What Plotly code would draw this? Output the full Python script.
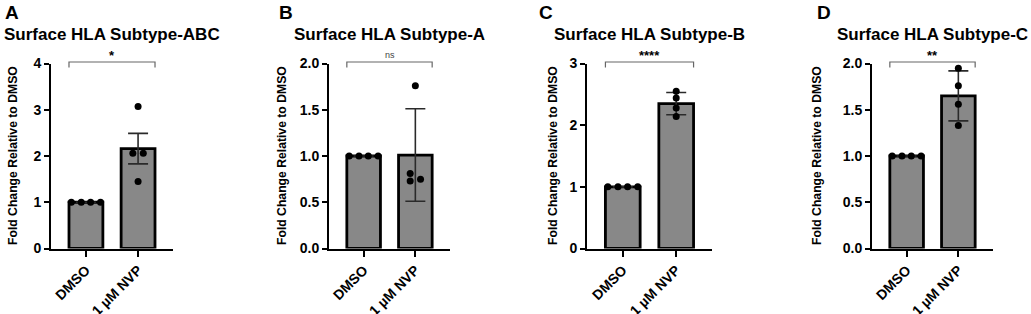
import plotly.graph_objects as go

categories = ["DMSO", "1 µM NVP"]
panel_letters = ["A", "B", "C", "D"]
panel_titles = ["Surface HLA Subtype-ABC", "Surface HLA Subtype-A",
                "Surface HLA Subtype-B", "Surface HLA Subtype-C"]
significance = ["*", "ns", "****", "**"]
y_title = "Fold Change Relative to DMSO"

# bar means (DMSO, NVP) and error bar half-widths
means_A = [1.0, 2.16]
means_B = [1.0, 1.01]
means_C = [1.0, 2.35]
means_D = [1.0, 1.65]
errors_A = [0.0, 0.33]
errors_B = [0.0, 0.50]
errors_C = [0.0, 0.18]
errors_D = [0.0, 0.27]

# individual replicate points
dmso_pts_A = [1.0, 1.0, 1.0, 1.0]
dmso_pts_B = [1.0, 1.0, 1.0, 1.0]
dmso_pts_C = [1.0, 1.0, 1.0, 1.0]
dmso_pts_D = [1.0, 1.0, 1.0, 1.0]
nvp_pts_A = [3.07, 2.06, 2.06, 1.45]
nvp_pts_B = [1.76, 0.81, 0.73, 0.75]
nvp_pts_C = [2.55, 2.44, 2.28, 2.14]
nvp_pts_D = [1.95, 1.76, 1.56, 1.33]

# y-axis ticks
yticks_A = [0, 1, 2, 3, 4]
yticks_B = [0.0, 0.5, 1.0, 1.5, 2.0]
yticks_C = [0, 1, 2, 3]
yticks_D = [0.0, 0.5, 1.0, 1.5, 2.0]

panels = [
    (means_A, errors_A, dmso_pts_A, nvp_pts_A, yticks_A, "d"),
    (means_B, errors_B, dmso_pts_B, nvp_pts_B, yticks_B, ".1f"),
    (means_C, errors_C, dmso_pts_C, nvp_pts_C, yticks_C, "d"),
    (means_D, errors_D, dmso_pts_D, nvp_pts_D, yticks_D, ".1f"),
]

# horizontal jitter of the points (layout, not data)
dmso_jitter = [-0.28, -0.09, 0.09, 0.28]
nvp_jitter = [[0, -0.1, 0.1, 0], [0, -0.1, -0.1, 0.1], [0, 0, 0, 0], [0, 0, 0, 0]]

W, H = 1031, 314
plot_left = [51, 329, 587, 872]
plot_right = [173, 450, 712, 993]
plot_top, plot_bottom = 63.5, 248.5
ytitle_x = [13, 282, 553, 817]
letter_x = [3, 277, 537, 815]
xr = [-0.67, 1.67]
bar_w = 0.65

FONT = "Liberation Sans, Arial, sans-serif"

fig = go.Figure()
layout = dict(
    width=W, height=H, margin=dict(l=0, r=0, t=0, b=0),
    paper_bgcolor="white", plot_bgcolor="white", showlegend=False,
    font=dict(family=FONT, color="black"),
)
annotations = []
shapes = []

for i, (means, errs, dpts, npts, yt, fmt) in enumerate(panels):
    n = "" if i == 0 else str(i + 1)
    xa, ya = "x" + n, "y" + n
    fig.add_trace(go.Bar(
        x=[0, 1], y=means, width=bar_w, xaxis=xa, yaxis=ya,
        marker=dict(color="#888888", line=dict(color="black", width=2.8)),
        error_y=dict(type="data", array=errs, color="#2a2a2a", thickness=1.6, width=10),
    ))
    px = [0 + j for j in dmso_jitter] + [1 + j for j in nvp_jitter[i]]
    fig.add_trace(go.Scatter(
        x=px, y=dpts + npts, mode="markers", xaxis=xa, yaxis=ya, cliponaxis=False,
        marker=dict(color="black", size=7),
    ))
    x0 = plot_left[i] / W
    x1 = plot_right[i] / W
    ymax = yt[-1]
    layout["xaxis" + n] = dict(
        domain=[x0, x1], anchor=ya, range=xr, tickvals=[0, 1], ticktext=categories,
        tickangle=-45, showline=True, linecolor="black", linewidth=2,
        ticks="outside", ticklen=6, tickwidth=2, tickcolor="black",
        showgrid=False, zeroline=False, fixedrange=True, automargin=False,
        tickfont=dict(size=14, family=FONT, weight="bold", color="black"),
    )
    layout["yaxis" + n] = dict(
        domain=[1 - plot_bottom / H, 1 - plot_top / H], anchor=xa, range=[0, ymax],
        tickvals=yt, tickformat=fmt, showline=True, linecolor="black", linewidth=2,
        ticks="outside", ticklen=5, tickwidth=2, tickcolor="black",
        showgrid=False, zeroline=False, fixedrange=True, automargin=False,
        tickfont=dict(size=14, family=FONT, weight="bold", color="black"),
    )
    # panel letter
    annotations.append(dict(
        text=panel_letters[i], xref="paper", yref="paper", x=letter_x[i] / W, y=1 - 13 / H,
        xanchor="left", yanchor="middle", showarrow=False,
        font=dict(size=19, family=FONT, weight="bold", color="black"),
    ))
    # panel title
    annotations.append(dict(
        text=panel_titles[i], xref=xa + " domain", yref="paper", x=0.5, y=1 - 35 / H,
        xanchor="center", yanchor="middle", showarrow=False,
        font=dict(size=17, family=FONT, weight="bold", color="black"),
    ))
    # y-axis title
    annotations.append(dict(
        text=y_title, xref="paper", yref="paper", x=ytitle_x[i] / W,
        y=1 - (plot_top + plot_bottom) / 2 / H, textangle=-90,
        xanchor="center", yanchor="middle", showarrow=False,
        font=dict(size=12.2, family=FONT, weight="bold", color="black"),
    ))
    # significance bracket
    bl = (0 - bar_w / 2 - xr[0]) / (xr[1] - xr[0])
    br = (1 + bar_w / 2 - xr[0]) / (xr[1] - xr[0])
    ph = plot_bottom - plot_top
    yt_top = 1 + 1.5 / ph
    yt_bot = 1 - 4 / ph
    shapes.append(dict(
        type="path", xref=xa + " domain", yref=ya + " domain",
        path=f"M {bl} {yt_bot} L {bl} {yt_top} L {br} {yt_top} L {br} {yt_bot}",
        line=dict(color="#666666", width=1.2),
    ))
    sig = significance[i]
    annotations.append(dict(
        text=sig, xref=xa + " domain", yref="paper", x=(bl + br) / 2,
        y=1 - (55 if sig == "ns" else 56) / H, xanchor="center", yanchor="middle",
        showarrow=False,
        font=dict(size=9 if sig == "ns" else 13, family=FONT,
                  weight="normal" if sig == "ns" else "bold",
                  color="#444444" if sig == "ns" else "black"),
    ))

layout["annotations"] = annotations
layout["shapes"] = shapes
fig.update_layout(**layout)
fig.write_html(
    "out.html",
    config={"displayModeBar": False},
    post_script="document.body.style.margin='0';document.body.style.overflow='hidden';",
)
